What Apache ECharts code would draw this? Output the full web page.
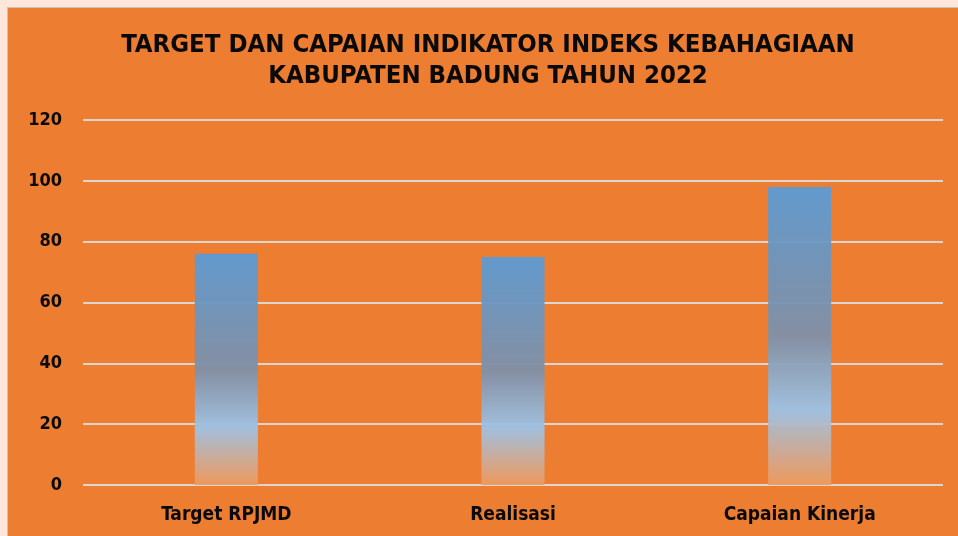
<!DOCTYPE html>
<html><head><meta charset="utf-8">
<script src="https://cdn.jsdelivr.net/npm/echarts@6/dist/echarts.min.js"></script>
<style>
html,body{margin:0;padding:0;background:#FDE6DA;width:958px;height:536px;overflow:hidden}
#frame{position:absolute;left:7px;top:7px;width:951px;height:529px;border-left:1px solid #C9C2BE;border-top:1px solid #C9C2BE;background:#ED7D31}
#chart{width:951px;height:529px}
</style></head><body>
<div id="frame"><div id="chart"></div></div>
<script>
const titleText = 'TARGET DAN CAPAIAN INDIKATOR INDEKS KEBAHAGIAAN\nKABUPATEN BADUNG TAHUN 2022';
const categories = ['Target RPJMD', 'Realisasi', 'Capaian Kinerja'];
const values = [76, 75, 98];
const yTicks = [0, 20, 40, 60, 80, 100, 120];

const font = "'Liberation Sans Narrow','DejaVu Sans Condensed',sans-serif";
const chart = echarts.init(document.getElementById('chart'), null, {renderer: 'canvas'});
chart.setOption({
  backgroundColor: '#ED7D31',
  animation: false,
  title: {
    text: titleText,
    left: 475, top: 17, textAlign: 'center',
    textStyle: {fontFamily: font, fontWeight: 'bold', fontSize: 25.5, lineHeight: 31, color: '#0A0A0A'}
  },
  grid: {left: 75, right: 16, top: 112, bottom: 52, containLabel: false},
  xAxis: {
    type: 'category', data: categories,
    axisLine: {show: false}, axisTick: {show: false},
    axisLabel: {fontFamily: font, fontWeight: 'bold', fontSize: 19, color: '#0A0A0A', margin: 21}
  },
  yAxis: {
    type: 'value', min: yTicks[0], max: yTicks[yTicks.length - 1], interval: 20,
    axisLine: {show: false}, axisTick: {show: false},
    axisLabel: {fontFamily: font, fontWeight: 'bold', fontSize: 18, color: '#0A0A0A', margin: 21},
    splitLine: {lineStyle: {color: '#DCD6D2', width: 2}}
  },
  series: [{
    type: 'bar', data: values, barWidth: '22%',
    itemStyle: {
      color: new echarts.graphic.LinearGradient(0, 0, 0, 1, [
        {offset: 0, color: '#5B9BD5'},
        {offset: 0.5, color: '#7F90A8'},
        {offset: 0.75, color: '#9DC3E6'},
        {offset: 1, color: '#EE9A5E'}
      ]),
      opacity: 0.95
    }
  }]
});
</script></body></html>
